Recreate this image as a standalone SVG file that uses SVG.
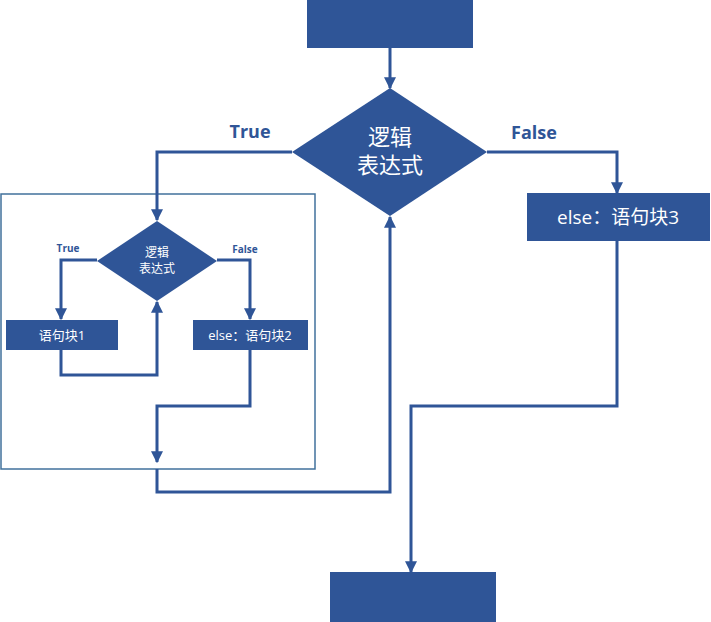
<svg xmlns="http://www.w3.org/2000/svg" width="711" height="622" viewBox="0 0 711 622">
<style>
.n{fill:#2F5597}
.c{fill:none;stroke:#2F5597;stroke-width:3}
.t{fill:#fff;font-family:"Open Sans","Noto Sans CJK SC",sans-serif;text-anchor:middle}
.l{fill:#2F5597;font-family:"Open Sans",sans-serif;font-weight:bold;text-anchor:middle}
</style>
<defs>
<marker id="a" viewBox="0 0 10 10" refX="9" refY="5" markerWidth="4" markerHeight="4" orient="auto" markerUnits="strokeWidth">
<path d="M0,0L10,5L0,10z" fill="#2F5597"/>
</marker>
</defs>
<rect x="1" y="194" width="314" height="275" fill="none" stroke="#41719C" stroke-width="1.5"/>
<g id="connectors">
<path class="c" marker-end="url(#a)" d="M390,48V88"/>
<path class="c" marker-end="url(#a)" d="M292,152H157V220"/>
<path class="c" marker-end="url(#a)" d="M487,152H617V193"/>
<path class="c" marker-end="url(#a)" d="M97,260H61V319"/>
<path class="c" marker-end="url(#a)" d="M61,350V375H157V302"/>
<path class="c" marker-end="url(#a)" d="M217,260H250V319"/>
<path class="c" marker-end="url(#a)" d="M250,350V406H157V462"/>
<path class="c" marker-end="url(#a)" d="M157,469V492H390V217"/>
<path class="c" marker-end="url(#a)" d="M617,241V406H411V572"/>
</g>
<text class="l" x="250" y="138" font-size="18">True</text>
<text class="l" x="534" y="139" font-size="18">False</text>
<text class="l" x="68" y="252" font-size="10">True</text>
<text class="l" x="245" y="253" font-size="10">False</text>
<g id="start"><rect class="n" x="307" y="0" width="166" height="48"/></g>
<g id="cond1"><path class="n" d="M390,88L487,152L390,216L292,152Z"/>
<text class="t" x="390" y="145" font-size="22">逻辑</text>
<text class="t" x="390" y="173" font-size="22">表达式</text></g>
<g id="block3"><rect class="n" x="527" y="193" width="183" height="48"/>
<text class="t" x="618" y="224" font-size="19">else：语句块3</text></g>
<g id="cond2"><path class="n" d="M157,221L217,261L157,301L97,261Z"/>
<text class="t" x="157" y="257" font-size="12">逻辑</text>
<text class="t" x="157" y="273" font-size="12">表达式</text></g>
<g id="block1"><rect class="n" x="6" y="320" width="112" height="30"/>
<text class="t" x="62" y="340" font-size="13">语句块1</text></g>
<g id="block2"><rect class="n" x="193" y="320" width="115" height="30"/>
<text class="t" x="250" y="340" font-size="13">else：语句块2</text></g>
<g id="end"><rect class="n" x="330" y="572" width="166" height="50"/></g>
</svg>
